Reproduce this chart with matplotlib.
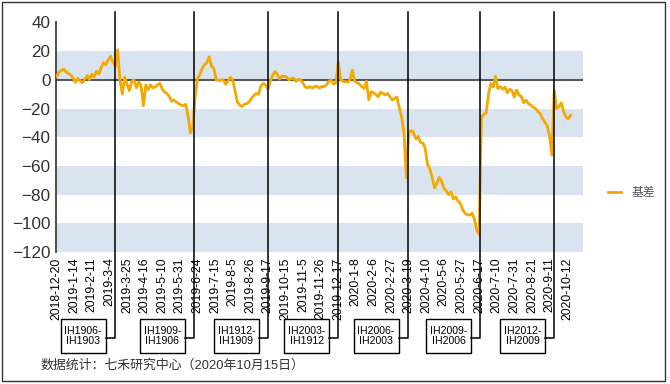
import numpy as np
import matplotlib
matplotlib.use('Agg')
import matplotlib.pyplot as plt
import matplotlib.transforms as mtransforms
from matplotlib.patches import Rectangle
from matplotlib.lines import Line2D

plt.rcParams['font.family'] = ['Liberation Sans', 'Noto Sans CJK SC']

# x axis labels, one every 15 trading days
tick_dates = ['2018-12-20', '2019-1-14', '2019-2-11', '2019-3-4', '2019-3-25',
              '2019-4-16', '2019-5-10', '2019-5-31', '2019-6-24', '2019-7-15',
              '2019-8-5', '2019-8-26', '2019-9-17', '2019-10-15', '2019-11-5',
              '2019-11-26', '2019-12-17', '2020-1-8', '2020-2-6', '2020-2-27',
              '2020-3-19', '2020-4-10', '2020-5-6', '2020-5-27', '2020-6-17',
              '2020-7-10', '2020-7-31', '2020-8-21', '2020-9-11', '2020-10-12']
tick_step = 15

# basis, read every 2 trading days
basis = [2.3, 5.5, 6.5, 7.5, 5.5, 4.5, 3.5, 1.5, -1.8, 1.2,
         -0.5, -2.0, 0.5, 3.0, 0.2, 4.0, 2.0, 6.0, 4.0, 8.5,
         12.0, 10.5, 14.0, 16.5, 12.5, 9.5, 21.0, 0.0, -10.0, 2.0,
         -3.0, -7.5, -1.0, 0.0, -5.5, -1.5, -4.0, -18.0, -3.5, -7.0,
         -3.5, -5.5, -5.0, -3.5, -2.5, -6.5, -8.5, -9.5, -11.5, -15.0,
         -14.0, -15.5, -16.5, -17.5, -18.0, -17.0, -25.0, -37.0, -33.0, -12.0,
         1.0, 3.5, 8.0, 10.5, 12.0, 16.0, 9.5, 8.0, 0.0, -0.5,
         0.0, 0.0, -3.0, -1.0, 2.0, 0.0, -7.5, -15.5, -17.5, -18.5,
         -17.0, -16.5, -15.5, -13.0, -11.0, -9.5, -10.0, -4.5, -2.5, -3.5,
         -6.5, -1.0, 3.0, 5.8, 4.0, 0.5, 2.5, 2.5, 2.0, 0.0,
         1.0, 1.2, -1.0, 0.5, 0.0, -2.3, -5.0, -5.5, -4.7, -5.8,
         -4.5, -4.5, -5.8, -4.5, -4.7, -3.5, -1.0, 0.0, -3.0, -2.0,
         12.5, 0.5, -1.0, -1.2, -1.5, 0.0, 6.8, -1.0, -2.0, -3.0,
         -4.7, -5.9, -1.0, -14.0, -8.2, -9.0, -10.0, -11.8, -8.5, -9.5,
         -10.5, -9.4, -11.8, -14.0, -13.0, -12.0, -19.5, -26.0, -37.0, -68.3,
         -37.0, -35.3, -36.5, -41.0, -39.5, -43.6, -44.0, -47.5, -59.0, -62.0,
         -68.0, -75.4, -72.0, -68.0, -70.7, -75.5, -77.5, -80.1, -78.0, -83.0,
         -81.5, -84.5, -86.0, -90.5, -93.0, -94.0, -94.3, -93.0, -97.0, -105.0,
         -107.5, -25.9, -24.0, -23.0, -10.0, -2.4, -5.0, 2.4, -6.0, -4.7,
         -6.5, -5.0, -9.0, -6.5, -7.5, -12.0, -7.1, -10.6, -11.5, -16.0,
         -14.1, -16.5, -17.5, -19.0, -20.0, -22.0, -23.5, -27.0, -29.5, -32.0,
         -39.0, -52.5, -7.1, -20.0, -18.8, -16.0, -22.0, -26.0, -27.1, -24.7]
step = 2

# contract roll points (trading-day index) and their labels
roll_idx = [49.5, 117, 180, 240, 299, 361, 424]
roll_labels = ['IH1906-\nIH1903', 'IH1909-\nIH1906', 'IH1912-\nIH1909',
               'IH2003-\nIH1912', 'IH2006-\nIH2003', 'IH2009-\nIH2006',
               'IH2012-\nIH2009']

W, H = 670, 384
fig = plt.figure(figsize=(W / 100, H / 100), dpi=100)
ax = fig.add_axes([56 / W, 1 - 252 / H, 527 / W, 229.5 / H])

x = np.arange(len(basis)) * step
ax.set_xlim(-0.5, 448.5)
ax.set_ylim(-120, 40)

# alternating bands
for lo in (0, -40, -80, -120):
    ax.axhspan(lo, lo + 20, color='#DAE4F0', lw=0, zorder=0)
ax.axhline(0, color='#595959', lw=1.5, zorder=2)

ax.plot(x, basis, color='#F2A900', lw=2.0, zorder=3, label='基差')

for s in ['top', 'right', 'bottom']:
    ax.spines[s].set_visible(False)
ax.spines['left'].set_color('#404040')
ax.spines['left'].set_linewidth(1.3)

ax.set_yticks(range(-120, 41, 20))
ax.set_xticks(np.arange(len(tick_dates)) * tick_step)
ax.set_xticklabels(tick_dates, rotation=90, fontsize=8.8)
ax.tick_params(length=0)
ax.tick_params(axis='y', labelsize=12.3, colors='#333333', pad=4)
ax.tick_params(axis='x', pad=4)

ax.legend(loc='center left', bbox_to_anchor=(1.047, 0.257), frameon=False,
          handlelength=1.1, handletextpad=0.9, borderpad=0, borderaxespad=0,
          fontsize=8.5, labelcolor='#555555')

# roll lines and label boxes
px = 527 / 449.0  # pixels per trading day
trans = mtransforms.blended_transform_factory(ax.transData, fig.transFigure)
gap = 9 / px
bw = 45 / px
for r, lab in zip(roll_idx, roll_labels):
    right = r - gap
    fig.add_artist(Line2D([r, r, right], [1 - 12 / H, 1 - 338 / H, 1 - 338 / H],
                          transform=trans, color='black', lw=1.1))
    fig.add_artist(Rectangle((right - bw, 1 - 353 / H), bw, 34 / H, transform=trans,
                             facecolor='white', edgecolor='black', lw=1))
    fig.text(right - bw / 2, 1 - 336 / H, lab, transform=trans, ha='center',
             va='center', fontsize=7.6, linespacing=1.0)

fig.text(40 / W, 1 - 365 / H, '数据统计：七禾研究中心（2020年10月15日）',
         fontsize=9.3, color='#333333', va='center')

fig.add_artist(Rectangle((2 / W, 3 / H), 663 / W, 379 / H, transform=fig.transFigure,
                         fill=False, edgecolor='#333333', lw=1))

fig.savefig('out.png', dpi=100)
